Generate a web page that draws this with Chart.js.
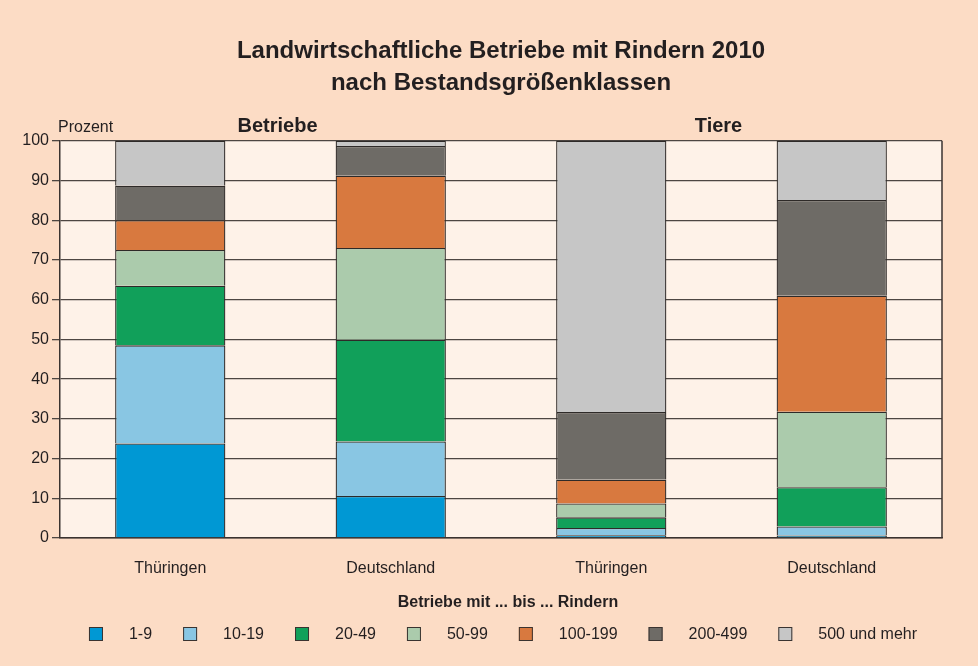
<!DOCTYPE html>
<html>
<head>
<meta charset="utf-8">
<script src="https://cdn.jsdelivr.net/npm/chart.js@4"></script>
<style>
  body { margin: 0; background: #fcdcc5; }
  #wrap { width: 978px; height: 666px; }
</style>
</head>
<body>
<div id="wrap"><canvas id="rinder"></canvas></div>
<script>
const categories = ['Thüringen', 'Deutschland', 'Thüringen', 'Deutschland'];
const groups = ['Betriebe', 'Tiere'];
const size_classes = ['1-9', '10-19', '20-49', '50-99', '100-199', '200-499', '500 und mehr'];

// share in percent, order: Betriebe TH, Betriebe DE, Tiere TH, Tiere DE
const v_1_9     = [23.8, 10.6,  0.7,  0.6];
const v_10_19   = [24.7, 13.7,  1.8,  2.3];
const v_20_49   = [15.0, 25.6,  2.7,  9.9];
const v_50_99   = [ 9.0, 23.1,  3.5, 19.0];
const v_100_199 = [ 7.5, 18.2,  6.0, 29.2];
const v_200_499 = [ 8.7,  7.5, 17.0, 24.1];
const v_500     = [11.3,  1.3, 68.3, 14.9];

const y_ticks = [0, 10, 20, 30, 40, 50, 60, 70, 80, 90, 100];

const class_colors = ['#0098d4', '#89c6e3', '#11a05a', '#abcbac', '#d8793f', '#6e6b66', '#c6c6c6'];
const all_values = [v_1_9, v_10_19, v_20_49, v_50_99, v_100_199, v_200_499, v_500];

const FONT = "'Liberation Sans', Arial, sans-serif";
const INK = '#231f20';

const backgrounds = {
    id: 'backgrounds',
    beforeDraw(chart) {
        const ctx = chart.ctx;
        const a = chart.chartArea;
        ctx.save();
        ctx.fillStyle = '#fcdcc5';
        ctx.fillRect(0, 0, chart.width, chart.height);
        ctx.fillStyle = '#fef2e8';
        ctx.fillRect(a.left, a.top, a.right - a.left, a.bottom - a.top);
        ctx.restore();
    }
};

const extras = {
    id: 'extras',
    afterDraw(chart) {
        const ctx = chart.ctx;
        const a = chart.chartArea;
        const x = chart.scales.x;
        ctx.save();
        // frame right side
        ctx.strokeStyle = '#3a3330';
        ctx.lineWidth = 1.5;
        ctx.beginPath();
        ctx.moveTo(a.right, a.top);
        ctx.lineTo(a.right, a.bottom);
        ctx.stroke();

        // unit label
        ctx.fillStyle = INK;
        ctx.font = '16px ' + FONT;
        ctx.textAlign = 'left';
        ctx.textBaseline = 'middle';
        ctx.fillText('Prozent', a.left - 2, a.top - 13);

        // group headings over each half
        ctx.font = 'bold 20px ' + FONT;
        ctx.textAlign = 'center';
        const mid0 = (x.getPixelForTick(0) + x.getPixelForTick(1)) / 2;
        const mid1 = (x.getPixelForTick(2) + x.getPixelForTick(3)) / 2;
        ctx.fillText(groups[0], mid0 - 3, a.top - 14);
        ctx.fillText(groups[1], mid1 - 3, a.top - 14);

        // legend
        const cx = (a.left + a.right) / 2;
        ctx.font = 'bold 16px ' + FONT;
        ctx.fillText('Betriebe mit ... bis ... Rindern', cx + 7, 603);

        ctx.font = '16px ' + FONT;
        const box = 14, gap = 26, between = 31;
        const widths = size_classes.map(t => box + gap + ctx.measureText(t).width);
        const total = widths.reduce((s, w) => s + w, 0) + between * (widths.length - 1);
        let lx = cx + 2 - total / 2;
        const ly = 634;
        ctx.textAlign = 'left';
        size_classes.forEach((t, i) => {
            ctx.fillStyle = class_colors[i];
            ctx.fillRect(lx, ly - box / 2, box, box);
            ctx.strokeStyle = '#3a3330';
            ctx.lineWidth = 1;
            ctx.strokeRect(lx + 0.5, ly - box / 2 + 0.5, box - 1, box - 1);
            ctx.fillStyle = INK;
            ctx.fillText(t, lx + box + gap, ly + 1);
            lx += widths[i] + between;
        });
        ctx.restore();
    }
};

const datasets = size_classes.map((label, i) => ({
    label: label,
    data: all_values[i],
    backgroundColor: class_colors[i],
    borderColor: '#2e2a28',
    borderWidth: 1.3,
    categoryPercentage: 1,
    barPercentage: 0.5
}));

new Chart(document.getElementById('rinder'), {
    type: 'bar',
    data: { labels: categories, datasets: datasets },
    plugins: [backgrounds, extras],
    options: {
        responsive: true,
        maintainAspectRatio: false,
        animation: false,
        layout: { padding: { left: 0, right: 36, top: 0, bottom: 88 } },
        plugins: {
            legend: { display: false },
            tooltip: { enabled: false },
            title: {
                display: true,
                fullSize: false,
                text: ['Landwirtschaftliche Betriebe mit Rindern 2010', 'nach Bestandsgrößenklassen'],
                color: INK,
                font: { family: FONT, size: 24, weight: 'bold', lineHeight: 1.35 },
                padding: { top: 35, bottom: 41 }
            }
        },
        scales: {
            x: {
                stacked: true,
                grid: { display: false },
                border: { color: '#3a3330', width: 1.5 },
                ticks: { color: INK, font: { family: FONT, size: 16 }, padding: 13 },
                afterFit(scale) { scale.height = 40; }
            },
            y: {
                stacked: true,
                min: 0,
                max: 100,
                afterBuildTicks(scale) { scale.ticks = y_ticks.map(v => ({ value: v })); },
                grid: { color: '#4d4642', lineWidth: 1.3, tickLength: 8 },
                border: { color: '#3a3330', width: 1.5 },
                ticks: { color: INK, font: { family: FONT, size: 16 }, padding: 3 },
                afterFit(scale) { scale.width = 60; }
            }
        }
    }
});
</script>
</body>
</html>
